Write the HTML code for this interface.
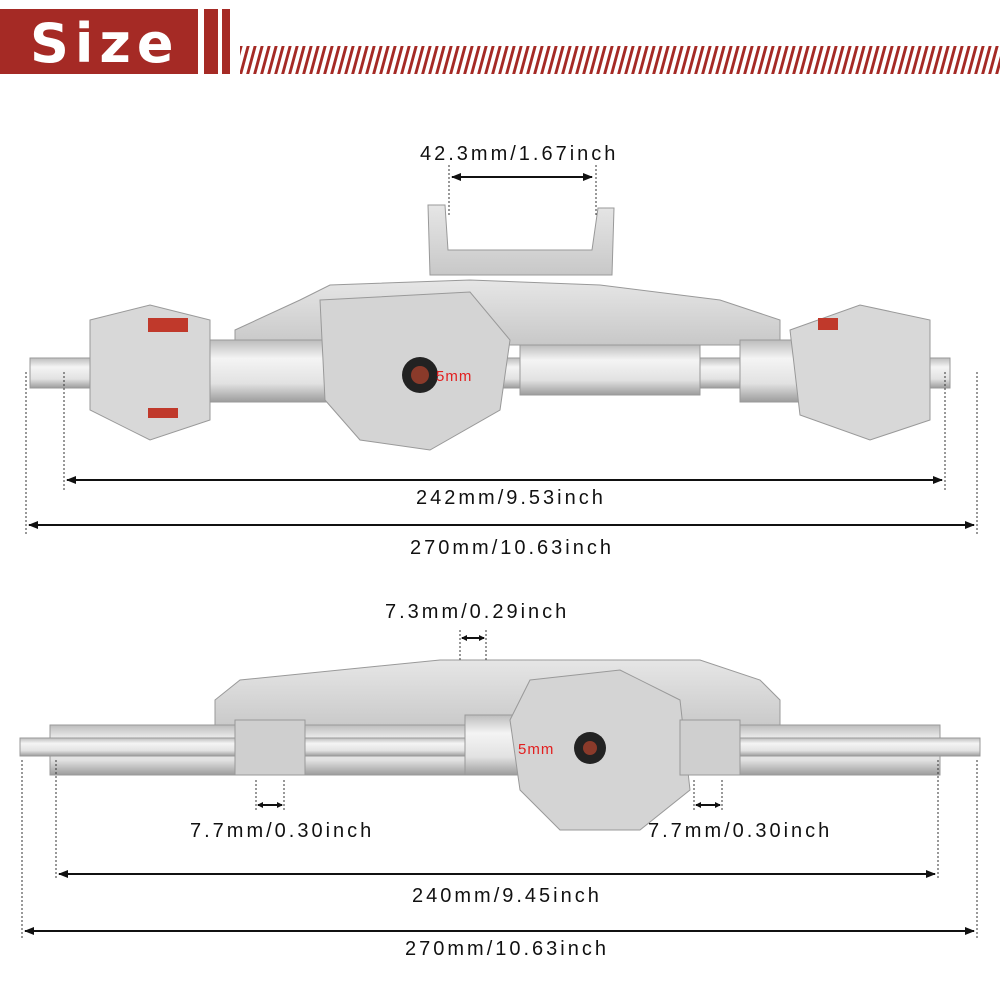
<!DOCTYPE html>
<html><head><style>
body{margin:0;background:#fff;}
svg{display:block}
text{font-family:"Liberation Sans",sans-serif;font-size:20px;fill:#111;letter-spacing:3px}
</style></head><body>
<svg width="1000" height="1000" viewBox="0 0 1000 1000" xmlns="http://www.w3.org/2000/svg">
<defs>
<pattern id="st" width="7" height="28" patternUnits="userSpaceOnUse" patternTransform="skewX(-15)">
<rect x="0" y="0" width="3" height="28" fill="#a52a25"/></pattern>
<linearGradient id="tube" x1="0" y1="0" x2="0" y2="1">
<stop offset="0" stop-color="#bdbdbd"/><stop offset="0.3" stop-color="#f4f4f4"/><stop offset="0.7" stop-color="#e2e2e2"/><stop offset="1" stop-color="#9c9c9c"/></linearGradient>
<linearGradient id="plate" x1="0" y1="0" x2="0" y2="1">
<stop offset="0" stop-color="#e6e6e6"/><stop offset="1" stop-color="#c8c8c8"/></linearGradient>
<marker id="a" markerUnits="userSpaceOnUse" markerWidth="10" markerHeight="8" refX="9" refY="4" orient="auto-start-reverse"><path d="M0,0 L10,4 L0,8 z" fill="#111"/></marker>
<marker id="s" markerUnits="userSpaceOnUse" markerWidth="6" markerHeight="6" refX="5" refY="3" orient="auto-start-reverse"><path d="M0,0 L6,3 L0,6 z" fill="#111"/></marker>
</defs>
<rect x="0" y="9" width="198" height="65" fill="#a52a25"/>
<rect x="204" y="9" width="14" height="65" fill="#a52a25"/>
<rect x="222" y="9" width="8" height="65" fill="#a52a25"/>
<text x="30" y="62" style="font-size:54px;font-weight:bold;fill:#fff;letter-spacing:6px;font-family:'DejaVu Sans',sans-serif">Size</text>
<rect x="240" y="46" width="760" height="28" fill="url(#st)"/>

<g stroke="#999" stroke-width="1">
<path d="M428,205 L445,205 L448,250 L592,250 L598,208 L614,208 L612,275 L430,275 Z" fill="url(#plate)"/>
<path d="M235,330 L300,300 L330,285 L470,280 L600,285 L720,300 L780,320 L780,345 L235,345 Z" fill="url(#plate)"/>
<rect x="30" y="358" width="920" height="30" fill="url(#tube)"/>
<rect x="200" y="340" width="150" height="62" fill="url(#tube)"/>
<rect x="520" y="345" width="180" height="50" fill="url(#tube)"/>
<rect x="740" y="340" width="90" height="62" fill="url(#tube)"/>
<path d="M320,300 L470,292 L510,340 L500,410 L430,450 L360,440 L325,400 Z" fill="#d4d4d4"/>
<path d="M90,320 L150,305 L210,320 L210,420 L150,440 L90,410 Z" fill="#d8d8d8"/>
<path d="M790,330 L860,305 L930,320 L930,420 L870,440 L800,415 Z" fill="#d8d8d8"/>
</g>
<circle cx="420" cy="375" r="18" fill="#222"/><circle cx="420" cy="375" r="9" fill="#8a3a2a"/>
<rect x="148" y="318" width="40" height="14" fill="#c0392b"/><rect x="148" y="408" width="30" height="10" fill="#c0392b"/>
<rect x="818" y="318" width="20" height="12" fill="#c0392b"/>
<text x="436" y="381" style="fill:#e21f1f;font-size:15px;letter-spacing:1px">5mm</text>
<line x1="449" y1="165" x2="449" y2="215" stroke="#333" stroke-dasharray="2,2"/>
<line x1="596" y1="165" x2="596" y2="215" stroke="#333" stroke-dasharray="2,2"/>
<line x1="452" y1="177" x2="592" y2="177" stroke="#111" stroke-width="2" marker-start="url(#a)" marker-end="url(#a)"/>
<text x="420" y="160">42.3mm/1.67inch</text>
<line x1="64" y1="372" x2="64" y2="490" stroke="#333" stroke-dasharray="2,2"/>
<line x1="945" y1="372" x2="945" y2="490" stroke="#333" stroke-dasharray="2,2"/>
<line x1="67" y1="480" x2="942" y2="480" stroke="#111" stroke-width="2" marker-start="url(#a)" marker-end="url(#a)"/>
<text x="416" y="504">242mm/9.53inch</text>
<line x1="26" y1="372" x2="26" y2="535" stroke="#333" stroke-dasharray="2,2"/>
<line x1="977" y1="372" x2="977" y2="535" stroke="#333" stroke-dasharray="2,2"/>
<line x1="29" y1="525" x2="974" y2="525" stroke="#111" stroke-width="2" marker-start="url(#a)" marker-end="url(#a)"/>
<text x="410" y="554">270mm/10.63inch</text>

<g stroke="#999" stroke-width="1">
<path d="M215,700 L240,680 L440,660 L700,660 L760,680 L780,700 L780,730 L215,730 Z" fill="url(#plate)"/>
<rect x="50" y="725" width="890" height="50" fill="url(#tube)"/>
<rect x="20" y="738" width="960" height="18" fill="url(#tube)"/>
<rect x="465" y="715" width="80" height="60" fill="url(#tube)"/>
<path d="M530,680 L620,670 L680,700 L690,790 L640,830 L560,830 L520,790 L510,720 Z" fill="#d4d4d4"/>
<rect x="235" y="720" width="70" height="55" fill="#cfcfcf"/>
<rect x="680" y="720" width="60" height="55" fill="#cfcfcf"/>
</g>
<circle cx="590" cy="748" r="16" fill="#222"/><circle cx="590" cy="748" r="7" fill="#8a3a2a"/>
<text x="518" y="754" style="fill:#e21f1f;font-size:15px;letter-spacing:1px">5mm</text>
<line x1="460" y1="630" x2="460" y2="660" stroke="#333" stroke-dasharray="2,2"/>
<line x1="486" y1="630" x2="486" y2="660" stroke="#333" stroke-dasharray="2,2"/>
<line x1="462" y1="638" x2="484" y2="638" stroke="#111" stroke-width="2" marker-start="url(#s)" marker-end="url(#s)"/>
<text x="385" y="618">7.3mm/0.29inch</text>
<line x1="256" y1="780" x2="256" y2="810" stroke="#333" stroke-dasharray="2,2"/>
<line x1="284" y1="780" x2="284" y2="810" stroke="#333" stroke-dasharray="2,2"/>
<line x1="258" y1="805" x2="282" y2="805" stroke="#111" stroke-width="2" marker-start="url(#s)" marker-end="url(#s)"/>
<text x="190" y="837">7.7mm/0.30inch</text>
<line x1="694" y1="780" x2="694" y2="810" stroke="#333" stroke-dasharray="2,2"/>
<line x1="722" y1="780" x2="722" y2="810" stroke="#333" stroke-dasharray="2,2"/>
<line x1="696" y1="805" x2="720" y2="805" stroke="#111" stroke-width="2" marker-start="url(#s)" marker-end="url(#s)"/>
<text x="648" y="837">7.7mm/0.30inch</text>
<line x1="56" y1="760" x2="56" y2="880" stroke="#333" stroke-dasharray="2,2"/>
<line x1="938" y1="760" x2="938" y2="880" stroke="#333" stroke-dasharray="2,2"/>
<line x1="59" y1="874" x2="935" y2="874" stroke="#111" stroke-width="2" marker-start="url(#a)" marker-end="url(#a)"/>
<text x="412" y="902">240mm/9.45inch</text>
<line x1="22" y1="760" x2="22" y2="940" stroke="#333" stroke-dasharray="2,2"/>
<line x1="977" y1="760" x2="977" y2="940" stroke="#333" stroke-dasharray="2,2"/>
<line x1="25" y1="931" x2="974" y2="931" stroke="#111" stroke-width="2" marker-start="url(#a)" marker-end="url(#a)"/>
<text x="405" y="955">270mm/10.63inch</text>
</svg>
</body></html>
